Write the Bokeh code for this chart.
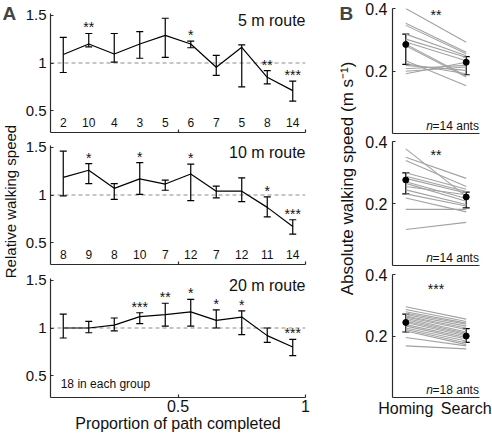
import math
from bokeh.plotting import figure
from bokeh.models import (Range1d, FixedTicker, Span, Whisker, TeeHead,
                          ColumnDataSource, Label)
from bokeh.layouts import row, column
from bokeh.core.properties import value
from bokeh.embed import file_html
from bokeh.resources import INLINE

FONT = "Liberation Sans"
AX = "#2b2b2b"

# ---------------- Panel A data ----------------
bins = [0.05, 0.15, 0.25, 0.35, 0.45, 0.55, 0.65, 0.75, 0.85, 0.95]

a5_mean = [1.09, 1.20, 1.095, 1.20, 1.29, 1.20, 0.955, 1.165, 0.85, 0.71]
a5_upper = [1.27, 1.31, 1.31, 1.33, 1.47, 1.23, 1.08, 1.19, 0.92, 0.81]
a5_lower = [0.90, 1.17, 1.01, 1.05, 1.06, 1.16, 0.87, 0.75, 0.78, 0.60]
a5_n = ["2", "10", "4", "3", "5", "6", "7", "5", "8", "14"]
a5_sig = ["", "**", "", "", "", "*", "", "", "**", "***"]

a10_mean = [1.185, 1.26, 1.07, 1.17, 1.115, 1.22, 1.04, 1.04, 0.87, 0.67]
a10_upper = [1.46, 1.33, 1.12, 1.34, 1.157, 1.325, 1.094, 1.18, 0.98, 0.74]
a10_lower = [0.99, 1.12, 0.955, 1.007, 1.05, 0.94, 0.97, 0.93, 0.77, 0.59]
a10_n = ["8", "9", "8", "10", "7", "12", "7", "12", "11", "14"]
a10_sig = ["", "*", "", "*", "", "*", "", "", "*", "***"]

a20_mean = [1.00, 1.00, 1.03, 1.12, 1.14, 1.17, 1.08, 1.115, 0.92, 0.80]
a20_upper = [1.146, 1.07, 1.105, 1.16, 1.26, 1.30, 1.19, 1.18, 1.00, 0.88]
a20_lower = [0.895, 0.95, 0.97, 1.046, 1.02, 1.02, 1.00, 0.93, 0.85, 0.71]
a20_sig = ["", "", "", "***", "**", "*", "*", "*", "", "***"]

a_titles = ["5 m route", "10 m route", "20 m route"]
a_xticks = [0.5, 1]
a_yticks = [0.5, 1, 1.5]

# ---------------- Panel B data ----------------
b_cats = ["Homing", "Search"]
b_yticks = [0.2, 0.4]

b1_homing = [0.400, 0.353, 0.346, 0.318, 0.302, 0.293, 0.286, 0.281, 0.233, 0.223, 0.218, 0.207, 0.199, 0.191]
b1_search = [0.292, 0.260, 0.255, 0.249, 0.244, 0.233, 0.184, 0.181, 0.153, 0.191, 0.202, 0.218, 0.213, 0.228]
b1_mean = [0.285, 0.228]
b1_upper = [0.318, 0.246]
b1_lower = [0.221, 0.188]

b2_homing = [0.376, 0.349, 0.339, 0.299, 0.288, 0.281, 0.270, 0.265, 0.255, 0.244, 0.231, 0.218, 0.181, 0.116]
b2_search = [0.223, 0.281, 0.255, 0.246, 0.239, 0.234, 0.216, 0.207, 0.228, 0.197, 0.192, 0.173, 0.181, 0.139]
b2_mean = [0.276, 0.221]
b2_upper = [0.299, 0.237]
b2_lower = [0.231, 0.186]

b3_homing = [0.295, 0.286, 0.279, 0.274, 0.270, 0.265, 0.262, 0.258, 0.253, 0.248, 0.244, 0.237, 0.232, 0.226, 0.221, 0.216, 0.195, 0.168]
b3_search = [0.255, 0.247, 0.242, 0.238, 0.232, 0.226, 0.221, 0.213, 0.209, 0.205, 0.200, 0.195, 0.190, 0.184, 0.177, 0.172, 0.168, 0.158]
b3_mean = [0.244, 0.200]
b3_upper = [0.271, 0.224]
b3_lower = [0.213, 0.179]

b_sig = ["**", "**", "***"]
b_n = ["=14 ants", "=14 ants", "=18 ants"]


def base_fig(width, height, xr, yr, left, right, top, bottom):
    p = figure(width=width, height=height, x_range=xr, y_range=yr,
               output_backend="svg", toolbar_location=None,
               min_border_left=left, min_border_right=right,
               min_border_top=top, min_border_bottom=bottom)
    p.outline_line_color = None
    p.grid.visible = False
    p.background_fill_color = "white"
    p.border_fill_color = "white"
    for ax in p.axis:
        ax.axis_line_color = AX
        ax.major_tick_line_color = AX
        ax.minor_tick_line_color = AX
        ax.major_tick_in = 3
        ax.major_tick_out = 0
        ax.minor_tick_in = 3
        ax.minor_tick_out = 0
        ax.axis_line_width = 1.2
        ax.major_tick_line_width = 1.2
        ax.minor_tick_line_width = 1.2
        ax.major_label_text_font = FONT
        ax.major_label_text_color = "#111111"
        ax.axis_label_text_font = FONT
        ax.axis_label_text_font_style = "normal"
        ax.axis_label_text_color = "#111111"
    return p


def whisker(src, lo, hi):
    return Whisker(source=src, base="x", upper=hi, lower=lo,
                   line_color="black", line_width=1.2,
                   upper_head=TeeHead(size=7, line_color="black", line_width=1.2),
                   lower_head=TeeHead(size=7, line_color="black", line_width=1.2))


def panel_a(mean, lower, upper, sig, title, nlab, height, top, bottom, last):
    p = base_fig(291, height, Range1d(0, 1), Range1d(0.27, 1.52), 27, 8, top, bottom)
    ya = p.yaxis[0]
    ya.ticker = FixedTicker(ticks=a_yticks)
    ya.major_label_overrides = {1: "1"}
    ya.major_label_text_font_size = "15px"
    ya.major_label_standoff = 4
    xa = p.xaxis[0]
    if last:
        xa.ticker = FixedTicker(ticks=a_xticks)
        xa.major_label_overrides = {0.5: "0.5", 1: "1"}
        xa.major_label_text_font_size = "16px"
        xa.major_label_standoff = 2
        xa.axis_label = "Proportion of path completed"
        xa.axis_label_text_font_size = "16px"
        xa.axis_label_standoff = 0
    else:
        # tick marks only, no tick labels
        xa.ticker = FixedTicker(ticks=[], minor_ticks=a_xticks)
        xa.major_label_standoff = 0

    span = Span(location=1, dimension="width", line_color="#8c8c8c",
                line_dash="4 3", line_width=1.2, level="underlay")
    p.add_layout(span)
    src = ColumnDataSource(dict(x=bins, m=mean, lo=lower, hi=upper, s=sig))
    p.add_layout(whisker(src, "lo", "hi"))
    p.line("x", "m", source=src, line_color="black", line_width=1.2)
    p.text("x", "hi", "s", source=src, text_align="center", text_baseline="alphabetic",
           y_offset=-6, text_font=value(FONT), text_font_size="14px", text_color="#111111")
    p.text(x=[1.0], y=[1.45], text=[title], text_align="right", text_baseline="middle",
           text_font=value(FONT), text_font_size="16px", text_color="#111111")
    if nlab is not None:
        p.text(x=bins, y=[0.375] * len(bins), text=nlab, text_align="center",
               text_baseline="middle", text_font=value(FONT), text_font_size="12px",
               text_color="#111111")
    else:
        p.text(x=[0.04], y=[0.41], text=["18 in each group"], text_align="left",
               text_baseline="middle", text_font=value(FONT), text_font_size="12px",
               text_color="#111111")
    return p


def panel_b(hom, sea, mean, lower, upper, sig, ntext, star_y, height, top, bottom, last):
    p = base_fig(134, height, Range1d(0.78, 2.22), Range1d(0, 0.4), 34, 13, top, bottom)
    ya = p.yaxis[0]
    ya.ticker = FixedTicker(ticks=b_yticks)
    ya.major_label_text_font_size = "16px"
    ya.major_label_standoff = 5
    xa = p.xaxis[0]
    xa.major_tick_in = 0
    if last:
        xa.ticker = FixedTicker(ticks=[1, 2])
        xa.major_label_overrides = {1: b_cats[0], 2: b_cats[1]}
        xa.major_label_text_font_size = "16px"
        xa.major_label_standoff = 2
    else:
        xa.ticker = FixedTicker(ticks=[])
        xa.major_label_standoff = 0

    lines = ColumnDataSource(dict(h=hom, s=sea))
    p.segment(x0=1, y0="h", x1=2, y1="s", source=lines, line_color="#a2a2a2", line_width=1.1)
    src = ColumnDataSource(dict(x=[1, 2], m=mean, lo=lower, hi=upper))
    p.add_layout(whisker(src, "lo", "hi"))
    p.scatter("x", "m", source=src, size=6, color="black")
    p.text(x=[1.5], y=[star_y], text=[sig], text_align="center", text_baseline="alphabetic",
           y_offset=-6, text_font=value(FONT), text_font_size="14px", text_color="#111111")
    p.text(x=[2.21], y=[0.023], text=[ntext], text_align="right", text_baseline="middle",
           text_font=value(FONT), text_font_size="12px", text_color="#111111")
    p.text(x=[2.21], y=[0.023], text=["n"], text_align="right", text_baseline="middle",
           x_offset=-46, text_font=value(FONT), text_font_size="12px",
           text_font_style="italic", text_color="#111111")
    return p


def label_fig(width, x0):
    p = figure(width=width, height=436, x_range=Range1d(x0, x0 + width),
               y_range=Range1d(436, 0), output_backend="svg", toolbar_location=None,
               x_axis_location=None, y_axis_location=None, min_border=0)
    p.outline_line_color = None
    p.grid.visible = False
    return p


labA = label_fig(22, 0)
labA.add_layout(Label(x=2, y=13, text="A", text_font=FONT, text_font_size="19px",
                      text_font_style="bold", text_align="left", text_baseline="middle"))
labA.add_layout(Label(x=10, y=201, text="Relative walking speed", angle=math.pi / 2,
                      text_font=FONT, text_font_size="15px", text_align="center",
                      text_baseline="middle", text_color="#111111"))

labB = label_fig(45, 313)
labB.add_layout(Label(x=339, y=13, text="B", text_font=FONT, text_font_size="19px",
                      text_font_style="bold", text_align="left", text_baseline="middle"))
labB.add_layout(Label(x=347, y=178, text="Absolute walking speed (m s\u207b\u00b9)",
                      angle=math.pi / 2, text_font=FONT, text_font_size="17px",
                      text_align="center", text_baseline="middle", text_color="#111111"))

A1 = panel_a(a5_mean, a5_lower, a5_upper, a5_sig, a_titles[0], a5_n, 139, 13, 7, False)
A2 = panel_a(a10_mean, a10_lower, a10_upper, a10_sig, a_titles[1], a10_n, 132, 6, 7, False)
A3 = panel_a(a20_mean, a20_lower, a20_upper, a20_sig, a_titles[2], None, 165, 7, 39, True)

B1 = panel_b(b1_homing, b1_search, b1_mean, b1_lower, b1_upper, b_sig[0], b_n[0], 0.361,
             135, 8, 2, False)
B2 = panel_b(b2_homing, b2_search, b2_mean, b2_lower, b2_upper, b_sig[1], b_n[1], 0.338,
             132, 6, 2, False)
B3 = panel_b(b3_homing, b3_search, b3_mean, b3_lower, b3_upper, b_sig[2], b_n[2], 0.333,
             169, 7, 39, True)

layout = row(labA, column(A1, A2, A3, spacing=0), labB, column(B1, B2, B3, spacing=0), spacing=0)

open("out.html", "w").write(file_html(layout, INLINE))
